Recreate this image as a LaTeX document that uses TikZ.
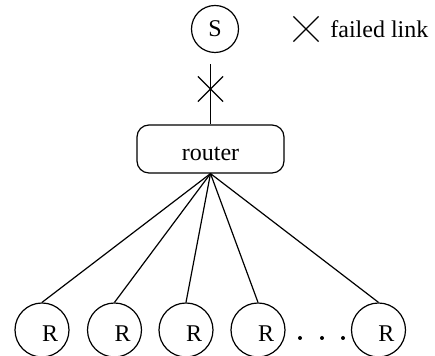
\documentclass[tikz,border=0pt]{standalone}
\usepackage{fontspec}
\setmainfont{Liberation Serif}
\usetikzlibrary{shapes.misc}
\begin{document}
\begin{tikzpicture}[x=0.5pt,y=-0.5pt,
  every node/.style={font=\fontsize{12}{14}\selectfont},
  link/.style={draw=black,line width=0.6pt},
  host/.style={circle,draw=black,line width=0.6pt,inner sep=0pt},
  recv/.style={host,minimum size=27pt,text height=12pt,text depth=0pt},
  routerbox/.style={rectangle,rounded corners=6pt,draw=black,line width=0.6pt,
    minimum width=73.5pt,minimum height=24pt,inner sep=0pt,text height=12pt,text depth=0pt},
  failmark/.style={cross out,draw=black,line width=0.6pt,minimum size=12pt,inner sep=0pt}]
\useasboundingbox (0,0) rectangle (435,356);

% sender and router
\node[host,minimum size=23.5pt] (S) at (215,29) {S};
\node[routerbox] (router) at (210.5,149) {router};

% broken link between sender and router
\draw[link,shorten <=5.5pt] (S.south -| router.north) -- (router.north);
\node[failmark] (fail) at (210.5,89) {};

% legend
\node[failmark] (legmark) at (306,29) {};
\node[anchor=base west,inner sep=0pt] (legtext) at (330,38) {failed link};

% receivers
\node[recv] (r1) at (42,330) {\hphantom{R}R};
\node[recv] (r2) at (114.5,330) {\hphantom{R}R};
\node[recv] (r3) at (186,330) {\hphantom{R}R};
\node[recv] (r4) at (258,330) {\hphantom{R}R};
\node[recv] (r5) at (378.5,330) {\hphantom{R}R};

\foreach \r in {r1,r2,r3,r4,r5}
  \draw[link] (router.south) -- (\r.north);

% ellipsis between the last two receivers
\foreach \x/\n in {300/d1,322/d2,343/d3}
  \fill (\x,338) circle (1pt) coordinate (\n);
\end{tikzpicture}
\end{document}
